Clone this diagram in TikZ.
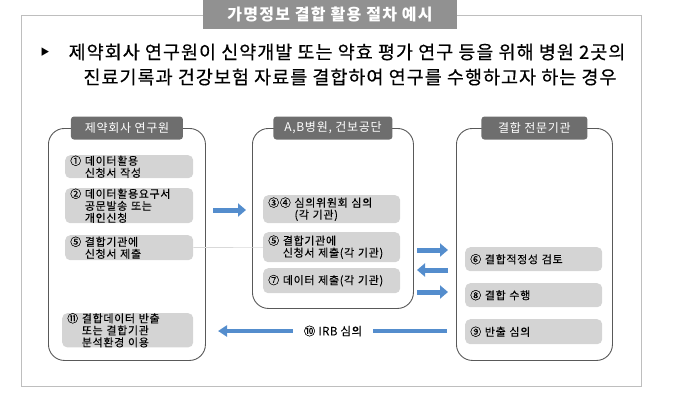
\documentclass[tikz,border=0pt]{standalone}
\usepackage{fontspec}
\setmainfont{Noto Sans CJK KR}
\usetikzlibrary{arrows.meta}

\definecolor{titlegray}{RGB}{145,145,145}
\definecolor{tabgray}{RGB}{110,110,110}
\definecolor{stepgray}{RGB}{212,212,212}
\definecolor{framegray}{RGB}{190,190,190}
\definecolor{flowblue}{RGB}{84,141,205}

\tikzset{
  titlebar/.style = {fill=titlegray, text=white, minimum width=254pt, minimum height=29pt,
                     inner sep=0pt, font=\bfseries\fontsize{16}{18}\selectfont\addfontfeature{LetterSpace=8}},
  casetext/.style = {inner sep=0pt, font=\fontsize{18.5}{22}\selectfont\addfontfeature{LetterSpace=5.5,FakeBold=0.4}},
  bigbox/.style = {draw=black!65, line width=0.9pt, rounded corners=16pt, anchor=north west},
  tab/.style = {fill=tabgray, text=white, rounded corners=3pt, minimum height=23pt,
                inner sep=0pt, font=\fontsize{12}{14}\selectfont\addfontfeature{LetterSpace=6}},
  stepbox/.style = {fill=stepgray, rounded corners=5pt, anchor=north west, align=left,
                    text width=#1, inner xsep=5pt, inner ysep=0pt,
                    font=\fontsize{11}{12}\selectfont\addfontfeature{LetterSpace=6,FakeBold=0.15}},
  flow/.style = {draw=flowblue, line width=5pt, -{Triangle[length=8pt,width=13pt]}},
  irbflow/.style = {draw=flowblue, line width=3.8pt, -{Triangle[length=9pt,width=11pt]}}
}

\begin{document}
\begin{tikzpicture}[x=1pt,y=-1pt]
\useasboundingbox (0,0) rectangle (680,408);

% outer frame and title
\draw [framegray, line width=0.8pt] (21,15) rectangle (641,386);
\node (title) at (330,14.5) [titlebar] {가명정보 결합 활용 절차 예시};

\node (bullet) at (45,52) [inner sep=0pt, font=\fontsize{9}{9}\selectfont] {▶};
\node (case1) at (347,52) [casetext] {제약회사 연구원이 신약개발 또는 약효 평가 연구 등을 위해 병원 2곳의};
\node (case2) at (350,77) [casetext] {진료기록과 건강보험 자료를 결합하여 연구를 수행하고자 하는 경우};

% three parties
\node (researcher) at (48,128) [bigbox, minimum width=157pt, minimum height=232pt] {};
\node (hospital) at (252,128) [bigbox, minimum width=161pt, minimum height=180pt] {};
\node (agency) at (456,128) [bigbox, minimum width=156pt, minimum height=232pt] {};

\node (researcherTab) at (researcher.north) [tab, minimum width=112pt] {제약회사 연구원};
\node (hospitalTab) at (hospital.north) [tab, minimum width=119pt] {A,B병원, 건보공단};
\node (agencyTab) at (agency.north) [tab, minimum width=106pt] {결합 전문기관};

% steps of the researcher
\node (r1) at (65,155) [stepbox=118pt, minimum height=23pt] {① 데이터활용\\\hphantom{① }신청서 작성};
\node (r2) at (65,188) [stepbox=118pt, minimum height=35pt] {② 데이터활용요구서\\\hphantom{② }공문발송 또는\\\hphantom{② }개인신청};
\node (r5) at (65,235) [stepbox=118pt, minimum height=25pt] {⑤ 결합기관에\\\hphantom{⑤ }신청서 제출};
\node (r11) at (62,313) [stepbox=121pt, minimum height=34pt] {⑪ 결합데이터 반출\\\hphantom{⑪ }또는 결합기관\\\hphantom{⑪ }분석환경 이용};

% steps of the hospitals
\node (h34) at (263,195) [stepbox=127pt, minimum height=28pt] {③④ 심의위원회 심의\\\hphantom{③④ }(각 기관)};
\node (h5) at (263,232) [stepbox=127pt, minimum height=30pt] {⑤ 결합기관에\\\hphantom{⑤ }신청서 제출(각 기관)};
\node (h7) at (263,268) [stepbox=127pt, minimum height=25pt] {⑦ 데이터 제출(각 기관)};

% steps of the agency
\node (a6) at (465,247) [stepbox=127pt, minimum height=24pt] {⑥ 결합적정성 검토};
\node (a8) at (465,283) [stepbox=127pt, minimum height=24pt] {⑧ 결합 수행};
\node (a9) at (465,319) [stepbox=127pt, minimum height=25pt] {⑨ 반출 심의};

\path [draw=black!15, line width=0.6pt] (r5) edge (h5);

% flows
\coordinate (toHospital1) at (213,210);
\coordinate (toHospital2) at (246,210);
\coordinate (toAgency1) at (417,250);
\coordinate (toAgency2) at (448,250);
\coordinate (fromAgency1) at (448,270);
\coordinate (fromAgency2) at (417,270);
\coordinate (dataOut1) at (417,292);
\coordinate (dataOut2) at (448,292);
\coordinate (irbStart) at (447,331);
\coordinate (irbEnd) at (218,331);

\draw [flow] (toHospital1) -- (toHospital2);
\draw [flow] (toAgency1) -- (toAgency2);
\draw [flow] (fromAgency1) -- (fromAgency2);
\draw [flow] (dataOut1) -- (dataOut2);
\draw [irbflow] (irbStart) -- (irbEnd);
\node (irb) at (333,331) [fill=white, minimum width=80pt, inner ysep=2pt,
  font=\fontsize{11.5}{13}\selectfont\addfontfeature{LetterSpace=4,FakeBold=0.15}] {⑩ IRB 심의};

\end{tikzpicture}
\end{document}
